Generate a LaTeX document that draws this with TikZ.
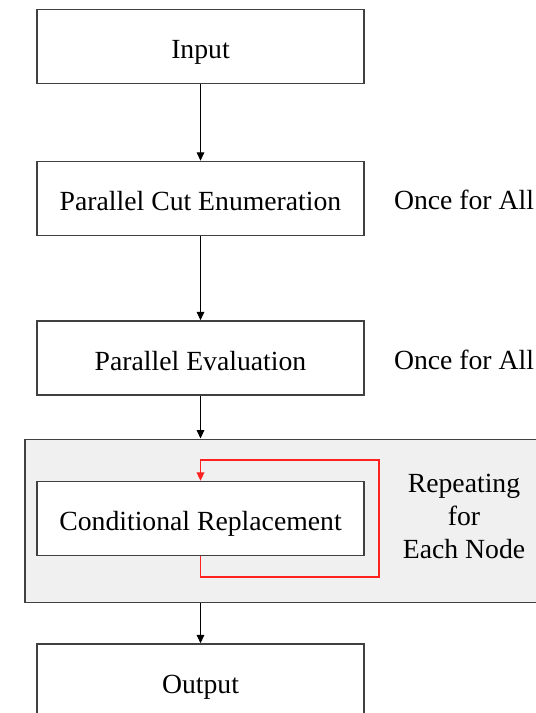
\documentclass[tikz,border=0pt]{standalone}
\usepackage{fontspec}
\setmainfont{Liberation Serif}
\usetikzlibrary{arrows.meta}
\definecolor{boxline}{HTML}{404040}
\definecolor{repfill}{HTML}{F0F0F0}
\definecolor{loopred}{HTML}{FF2020}
\begin{document}
\begin{tikzpicture}[
  x=0.5pt, y=-0.5pt,
  >={Triangle[length=4.2pt,width=3.8pt]},
  font=\fontsize{13.85}{16.5}\selectfont,
  stage/.style={draw=boxline, line width=0.75pt, fill=white,
    minimum width=163.5pt, minimum height=37pt, inner sep=0pt,
    text height=14pt, text depth=2pt},
  flow/.style={->, line width=0.5pt},
  side/.style={align=center, inner sep=0pt},
  redloop/.style={->, draw=loopred, line width=0.75pt}
]
\useasboundingbox (0,0) rectangle (536,713);
\clip (0,0) rectangle (536,713);
% ---- repeating block (behind the stage box) ----
\node[draw=boxline, line width=0.75pt, fill=repfill, minimum width=280pt,
  minimum height=81.5pt, inner sep=0pt, anchor=north west]
  (repbox) at (24,438.5) {};
% ---- the stages ----
\node[stage] (input)  at (200.5,46.5) {Input};
\node[stage] (cutenum) at (200.5,198.5) {Parallel Cut Enumeration};
\node[stage] (pareval) at (200.5,358) {Parallel Evaluation};
\node[stage] (condrep) at (200.5,518.5) {Conditional Replacement};
\node[stage] (output) at (200.5,681) {Output};
% ---- side notes ----
\node[side] (once1) at (464,200) {Once for All};
\node[side] (once2) at (464,360) {Once for All};
\node[side] (repeat) at (464,516) {Repeating\\ for\\ Each Node};
% ---- connectors ----
\draw[flow] (input) -- (cutenum);
\draw[flow] (cutenum) -- (pareval);
\draw[flow] (pareval.south) -- (pareval.south |- repbox.north);
\draw[flow] (output.north |- repbox.south) -- (output.north);
% ---- the loop ----
\coordinate (loopbot) at (379,577);
\coordinate (looptop) at (379,460);
\draw[redloop] (condrep.south) |- (loopbot) -- (looptop) -| (condrep.north);
\end{tikzpicture}
\end{document}
